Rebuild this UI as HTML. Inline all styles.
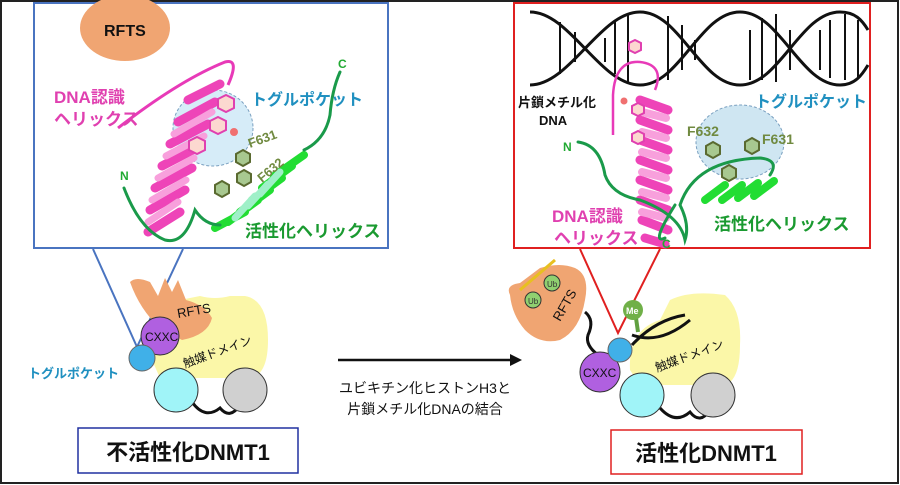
<!DOCTYPE html>
<html><head><meta charset="utf-8"><style>
html,body{margin:0;padding:0;background:#fff}
svg{display:block}
text{font-family:"Liberation Sans","Noto Sans CJK JP",sans-serif;font-weight:bold}
</style></head><body>
<svg width="900" height="485" viewBox="0 0 900 485" xmlns="http://www.w3.org/2000/svg">
<rect x="1" y="1" width="897" height="482" fill="#fff" stroke="#222" stroke-width="2"/>

<!-- LEFT TOP BOX -->
<rect x="34" y="3" width="354" height="245" fill="#fff" stroke="#4a74c0" stroke-width="2"/>
<ellipse cx="125" cy="28" rx="45" ry="33" fill="#f0a572"/>
<text x="104" y="36" font-size="16" fill="#111">RFTS</text>
<ellipse cx="213" cy="128" rx="40" ry="38" fill="#d6ecf8" stroke="#7aa0c0" stroke-dasharray="3,2"/>
<path d="M118,128 Q180,80 225,62 Q240,58 228,85" fill="none" stroke="#e83ab8" stroke-width="3"/>
<g stroke-linecap="round" fill="none">
<path d="M148,232 L180,212 M150,210 L185,190 M155,188 L192,168 M162,166 L200,146 M170,144 L208,124 M178,122 L215,102 M188,100 L220,84" stroke="#ee44b8" stroke-width="9"/>
<path d="M148,222 L178,202 M152,200 L186,180 M158,178 L194,158 M166,156 L204,136 M174,134 L212,112" stroke="#f8a0dc" stroke-width="7"/>
<path d="M215,228 L245,212 M228,222 L258,200 M240,212 L270,190 M252,200 L282,178 M262,188 L292,166 M274,176 L304,155" stroke="#22dd33" stroke-width="8"/>
<path d="M235,218 L255,196 M248,206 L268,184 M260,194 L280,172" stroke="#9ff0c8" stroke-width="7"/>
<path d="M124,188 Q140,230 165,240 Q185,245 195,210 Q205,225 220,225 M304,150 Q325,140 330,115 Q332,90 340,72" stroke="#1a9a4a" stroke-width="3"/>
</g>
<g fill="#fcd8d0" stroke="#e040b0" stroke-width="2">
<polygon points="226,95 234,99 234,108 226,112 218,108 218,99"/>
<polygon points="218,117 226,121 226,130 218,134 210,130 210,121"/>
<polygon points="197,137 205,141 205,150 197,154 189,150 189,141"/>
</g>
<circle cx="234" cy="132" r="4" fill="#f07070"/>
<g fill="#a8c890" stroke="#5a6a30" stroke-width="2">
<polygon points="243,150 250,154 250,162 243,166 236,162 236,154"/>
<polygon points="244,170 251,174 251,182 244,186 237,182 237,174"/>
<polygon points="222,181 229,185 229,193 222,197 215,193 215,185"/>
</g>
<text x="54" y="103" font-size="17" fill="#e040b0">DNA認識</text>
<text x="54" y="125" font-size="17" fill="#e040b0">ヘリックス</text>
<text x="251" y="105" font-size="16" fill="#2090c0">トグルポケット</text>
<text x="250" y="148" font-size="13" fill="#708a40" transform="rotate(-20 250 148)">F631</text>
<text x="262" y="183" font-size="13" fill="#708a40" transform="rotate(-40 262 183)">F632</text>
<text x="245" y="237" font-size="17" fill="#1a9a30">活性化ヘリックス</text>
<text x="120" y="180" font-size="12" fill="#22aa33">N</text>
<text x="338" y="68" font-size="12" fill="#22aa33">C</text>

<!-- RIGHT TOP BOX -->
<rect x="514" y="3" width="356" height="245" fill="#fff" stroke="#e02020" stroke-width="2"/>
<g stroke="#111" stroke-width="3" fill="none">
<path d="M530,85 C570,85 600,12 640,12 C680,12 700,85 740,85 C780,85 800,12 840,12 C855,12 862,20 868,30"/>
<path d="M530,12 C570,12 600,85 640,85 C680,85 700,12 740,12 C780,12 800,85 840,85 C855,85 862,75 868,65"/>
</g>
<g stroke="#111" stroke-width="2">
<path d="M560,22 V74 M575,32 V62 M605,38 V62 M615,22 V74 M628,14 V82 M668,16 V80 M682,25 V70 M695,40 V60 M750,30 V80 M762,18 V80 M776,14 V82 M790,30 V70 M820,30 V70 M830,20 V78 M845,14 V80 M858,20 V78"/>
</g>
<ellipse cx="740" cy="142" rx="44" ry="37" fill="#cfe6f2" stroke="#7aa0c0" stroke-dasharray="3,2"/>
<path d="M613,135 L613,95 Q615,60 640,62 Q665,65 655,90" fill="none" stroke="#e83ab8" stroke-width="2.5"/>
<g stroke-linecap="round" fill="none">
<path d="M640,100 L668,110 M640,120 L668,130 M640,140 L668,150 M640,160 L668,170 M640,180 L668,190 M640,200 L668,210 M642,220 L668,230 M645,238 L665,244" stroke="#ee44b8" stroke-width="9"/>
<path d="M642,112 L666,118 M642,132 L666,138 M642,152 L666,158 M642,172 L666,178 M642,192 L666,198 M642,212 L666,218" stroke="#f8a0dc" stroke-width="8"/>
<path d="M705,200 L725,185 M722,200 L742,185 M738,198 L758,183 M754,196 L774,181" stroke="#22dd33" stroke-width="8"/>
<path d="M578,142 Q600,145 605,175 Q612,195 640,200 Q680,215 685,240 Q690,225 680,205 Q695,160 760,158 Q780,160 770,175 M675,205 Q650,245 665,238" stroke="#1a9a4a" stroke-width="3"/>
</g>
<g fill="#fcd8d0" stroke="#e040b0" stroke-width="2">
<polygon points="635,40 641,43 641,50 635,53 629,50 629,43"/>
<polygon points="638,103 644,106 644,113 638,116 632,113 632,106"/>
<polygon points="638,131 644,134 644,141 638,144 632,141 632,134"/>
</g>
<circle cx="624" cy="101" r="3.5" fill="#f07070"/>
<g fill="#a8c890" stroke="#5a6a30" stroke-width="2">
<polygon points="713,142 720,146 720,154 713,158 706,154 706,146"/>
<polygon points="752,138 759,142 759,150 752,154 745,150 745,142"/>
<polygon points="729,165 736,169 736,177 729,181 722,177 722,169"/>
</g>
<text x="518" y="107" font-size="13" fill="#111">片鎖メチル化</text>
<text x="539" y="125" font-size="13" fill="#111">DNA</text>
<text x="755" y="107" font-size="16" fill="#2090c0">トグルポケット</text>
<text x="687" y="136" font-size="14" fill="#708a40">F632</text>
<text x="762" y="144" font-size="14" fill="#708a40">F631</text>
<text x="563" y="151" font-size="12" fill="#22aa33">N</text>
<text x="552" y="222" font-size="17" fill="#e040b0">DNA認識</text>
<text x="554" y="244" font-size="17" fill="#e040b0">ヘリックス</text>
<text x="714" y="230" font-size="17" fill="#1a9a30">活性化ヘリックス</text>
<text x="662" y="248" font-size="12" fill="#22aa33">C</text>

<!-- callout lines -->
<path d="M93,249 L137,347 L183,249" fill="none" stroke="#4a74c0" stroke-width="2"/>
<path d="M580,249 L618,333 L660,249" fill="none" stroke="#e02020" stroke-width="2"/>

<!-- LEFT DNMT1 -->
<path d="M152,360 Q146,310 180,300 L200,296 Q215,300 230,296 L245,296 Q268,300 268,340 Q268,375 250,378 L160,378 Z" fill="#fbf7a8"/>
<path d="M130,282 Q136,276 150,282 L158,296 L165,278 L172,292 L178,280 L186,300 Q205,305 212,318 Q208,335 182,340 L160,328 Q140,310 130,282 Z" fill="#f0a572"/>
<text x="178" y="318" font-size="13" fill="#111" transform="rotate(-10 178 318)" style="font-weight:normal">RFTS</text>
<circle cx="160" cy="336" r="19" fill="#b060e0" stroke="#333"/>
<text x="145" y="341" font-size="12" fill="#111" style="font-weight:normal">CXXC</text>
<circle cx="142" cy="358" r="13" fill="#40b0e8" stroke="#666"/>
<text x="185" y="368" font-size="12" fill="#111" transform="rotate(-20 185 368)" style="font-weight:normal">触媒ドメイン</text>
<path d="M192,402 Q205,420 220,408 Q230,420 240,405" fill="none" stroke="#111" stroke-width="3"/>
<circle cx="176" cy="390" r="22" fill="#a0f4f8" stroke="#333"/>
<circle cx="245" cy="390" r="22" fill="#d0d0d0" stroke="#333"/>
<text x="28" y="378" font-size="13" fill="#2090c0">トグルポケット</text>

<!-- arrow -->
<line x1="338" y1="360" x2="512" y2="360" stroke="#111" stroke-width="2.5"/>
<polygon points="522,360 510,354 510,366" fill="#111"/>
<text x="425" y="393" font-size="14" fill="#111" text-anchor="middle" style="font-weight:normal">ユビキチン化ヒストンH3と</text>
<text x="425" y="414" font-size="14" fill="#111" text-anchor="middle" style="font-weight:normal">片鎖メチル化DNAの結合</text>

<!-- RIGHT DNMT1 -->
<path d="M630,370 Q628,330 660,320 L670,300 Q690,290 725,295 Q742,310 740,345 Q740,380 725,385 L640,385 Z" fill="#fbf7a8"/>
<path d="M510,295 Q505,285 520,283 L540,268 Q560,262 575,268 Q590,275 585,300 Q580,330 560,340 Q540,345 525,330 Q512,315 510,295 Z" fill="#f0a572"/>
<path d="M520,290 L555,260" stroke="#e8c020" stroke-width="3"/>
<circle cx="533" cy="300" r="8" fill="#90d070" stroke="#333"/>
<circle cx="552" cy="283" r="8" fill="#90d070" stroke="#333"/>
<text x="528" y="304" font-size="8" fill="#333" style="font-weight:normal">Ub</text>
<text x="547" y="287" font-size="8" fill="#333" style="font-weight:normal">Ub</text>
<text x="560" y="322" font-size="13" fill="#111" transform="rotate(-60 560 322)" style="font-weight:normal">RFTS</text>
<path d="M585,312 Q595,320 588,335 Q585,345 598,355" fill="none" stroke="#111" stroke-width="3"/>
<line x1="636" y1="318" x2="638" y2="332" stroke="#60a040" stroke-width="4"/>
<circle cx="633" cy="310" r="10" fill="#70b048"/>
<text x="626" y="314" font-size="9" fill="#fff">Me</text>
<path d="M632,345 Q655,320 685,315 M632,335 Q660,345 690,320" fill="none" stroke="#111" stroke-width="3"/>
<circle cx="600" cy="372" r="20" fill="#b060e0" stroke="#333"/>
<text x="583" y="377" font-size="12" fill="#111" style="font-weight:normal">CXXC</text>
<circle cx="620" cy="350" r="12" fill="#40b0e8" stroke="#666"/>
<text x="657" y="372" font-size="12" fill="#111" transform="rotate(-20 657 372)" style="font-weight:normal">触媒ドメイン</text>
<path d="M660,408 Q675,425 690,412 Q700,425 710,410" fill="none" stroke="#111" stroke-width="3"/>
<circle cx="642" cy="395" r="22" fill="#a0f4f8" stroke="#333"/>
<circle cx="713" cy="395" r="22" fill="#d0d0d0" stroke="#333"/>

<!-- bottom labels -->
<rect x="78" y="428" width="220" height="45" fill="#fff" stroke="#2030a0" stroke-width="1.5"/>
<text x="188" y="460" font-size="22" fill="#111" text-anchor="middle">不活性化DNMT1</text>
<rect x="611" y="430" width="191" height="44" fill="#fff" stroke="#e02020" stroke-width="1.5"/>
<text x="706" y="461" font-size="22" fill="#111" text-anchor="middle">活性化DNMT1</text>
</svg>
</body></html>
